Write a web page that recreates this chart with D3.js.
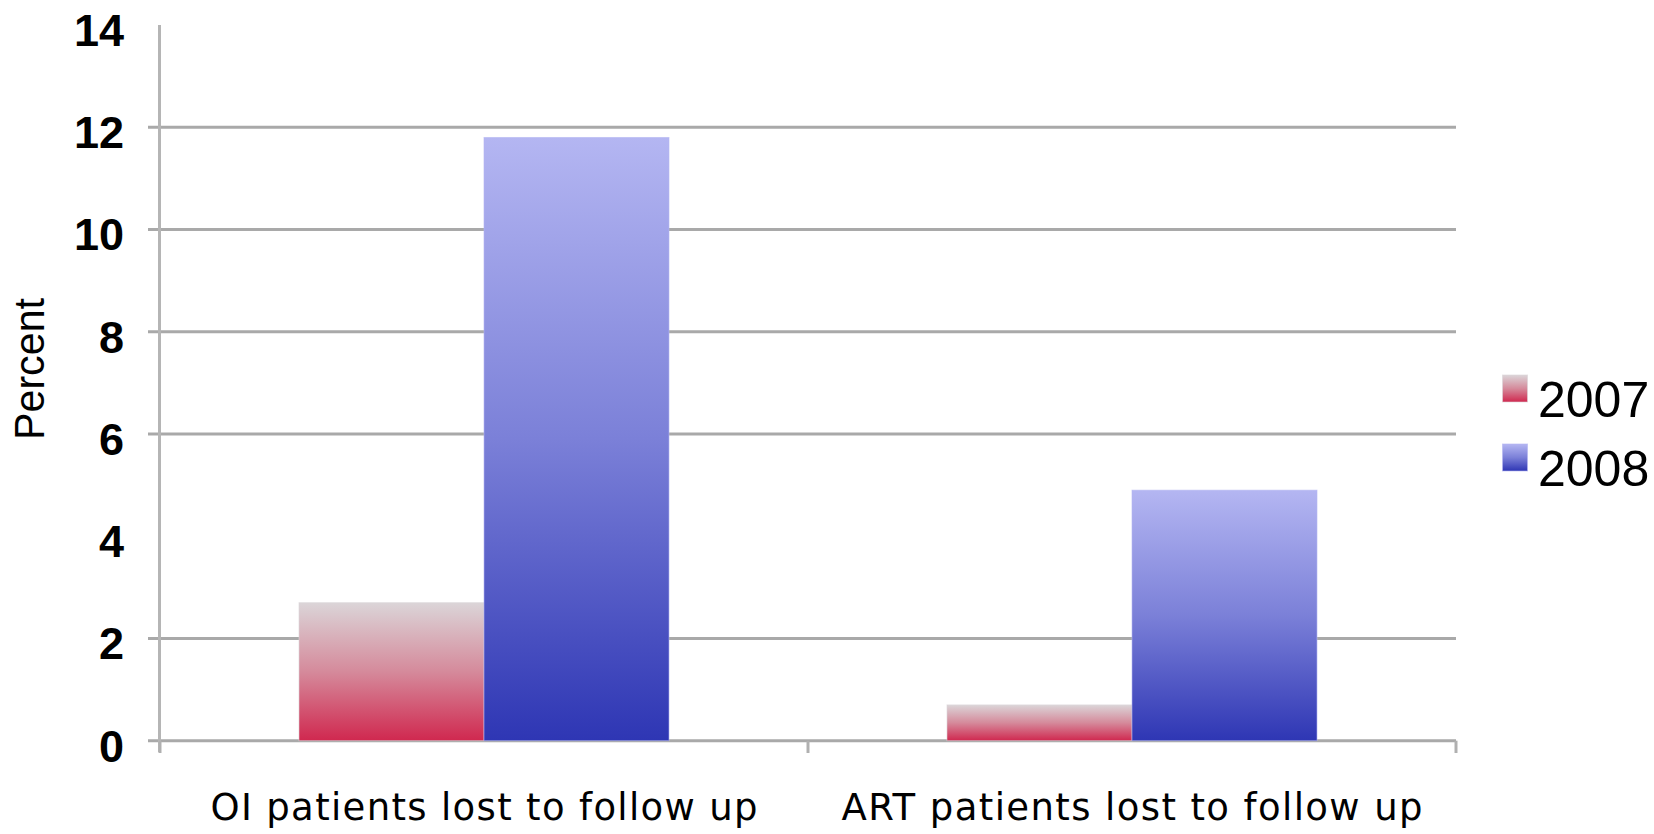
<!DOCTYPE html>
<html>
<head>
<meta charset="utf-8">
<script src="https://cdn.jsdelivr.net/npm/d3@7"></script>
<style>
  html, body { margin: 0; padding: 0; background: #ffffff; }
  svg { display: block; }
</style>
</head>
<body>
<script>
// ---- data ----
const categories = ["OI patients lost to follow up", "ART patients lost to follow up"];
const seriesNames = ["2007", "2008"];
const values2007 = [2.7, 0.7];
const values2008 = [11.8, 4.9];
const yTicks = [0, 2, 4, 6, 8, 10, 12, 14];
const gridValues = [0, 2, 6, 8, 10, 12];
const yTitle = "Percent";

const W = 1654, H = 834;
const svg = d3.select("body").append("svg").attr("width", W).attr("height", H);

const seriesValues = [values2007, values2008];
const gradients = [
  [["0%", "#dbd5d8"], ["50%", "#d58a9b"], ["100%", "#d0284f"]],
  [["0%", "#b4b6f2"], ["50%", "#7b80d8"], ["100%", "#2e36b4"]]
];

const defs = svg.append("defs");
gradients.forEach((stops, i) => {
  const g = defs.append("linearGradient").attr("id", "grad" + i)
    .attr("x1", 0).attr("y1", 0).attr("x2", 0).attr("y2", 1);
  stops.forEach(s => g.append("stop").attr("offset", s[0]).attr("stop-color", s[1]));
});

// ---- scales ----
const y = d3.scaleLinear().domain([0, 14]).range([740.7, 25]);
const x0 = d3.scaleBand().domain(categories).range([160, 1456])
  .paddingInner(0.429).paddingOuter(0.2145);
const x1 = d3.scaleBand().domain(seriesNames).range([0, x0.bandwidth()]).padding(0);

// ---- gridlines ----
svg.append("g").selectAll("line").data(gridValues).join("line")
  .attr("x1", 148).attr("x2", 1456)
  .attr("y1", d => y(d)).attr("y2", d => y(d))
  .attr("stroke", "#a9a9a9").attr("stroke-width", 3);

// ---- y axis line ----
svg.append("line")
  .attr("x1", 159.5).attr("x2", 159.5).attr("y1", y(14)).attr("y2", 752)
  .attr("stroke", "#b5b5b5").attr("stroke-width", 3);

// bottom category ticks
const catEdges = [x0.range()[0], (x0.range()[0] + x0.range()[1]) / 2, x0.range()[1]];
svg.append("g").selectAll("line").data(catEdges).join("line")
  .attr("x1", d => d).attr("x2", d => d).attr("y1", y(0)).attr("y2", 753)
  .attr("stroke", "#b0b0b0").attr("stroke-width", 3);

// ---- y tick labels ----
svg.append("g").selectAll("text").data(yTicks).join("text")
  .attr("x", 124).attr("y", d => y(d) + 21)
  .attr("text-anchor", "end")
  .attr("font-family", "'Liberation Sans', Arial, sans-serif")
  .attr("font-weight", "bold").attr("font-size", 45)
  .attr("fill", "#000")
  .text(d => d);

// ---- y title ----
svg.append("text")
  .attr("transform", "translate(44,369) rotate(-90)")
  .attr("text-anchor", "middle")
  .attr("font-family", "'Liberation Sans', Arial, sans-serif")
  .attr("font-size", 42)
  .attr("textLength", 142).attr("lengthAdjust", "spacingAndGlyphs")
  .attr("fill", "#000")
  .text(yTitle);

// ---- bars ----
const groups = svg.append("g").selectAll("g").data(categories).join("g")
  .attr("transform", d => `translate(${x0(d)},0)`);
groups.selectAll("rect")
  .data((c, ci) => seriesNames.map((s, si) => ({ s, si, v: seriesValues[si][ci] })))
  .join("rect")
  .attr("x", d => x1(d.s))
  .attr("width", x1.bandwidth())
  .attr("y", d => y(d.v))
  .attr("height", d => y(0) - y(d.v))
  .attr("fill", d => `url(#grad${d.si})`)
  .attr("stroke", d => gradients[d.si][0][1])
  .attr("stroke-opacity", 0.6)
  .attr("stroke-width", 1);

// ---- category labels ----
const catWidths = [547, 581];
svg.append("g").selectAll("text").data(categories).join("text")
  .attr("x", d => x0(d) + x0.bandwidth() / 2)
  .attr("y", 820)
  .attr("text-anchor", "middle")
  .attr("font-family", "'DejaVu Sans', Verdana, sans-serif")
  .attr("font-size", 37)
  .attr("textLength", (d, i) => catWidths[i])
  .attr("lengthAdjust", "spacing")
  .attr("fill", "#000")
  .text(d => d);

// ---- legend ----
const legendY = [375, 444];
const leg = svg.append("g").selectAll("g").data(seriesNames).join("g");
leg.append("rect")
  .attr("x", 1502.5).attr("y", (d, i) => legendY[i])
  .attr("width", 25).attr("height", 27)
  .attr("fill", (d, i) => `url(#grad${i})`)
  .attr("stroke", (d, i) => gradients[i][0][1]).attr("stroke-opacity", 0.6);
leg.append("text")
  .attr("x", 1538).attr("y", (d, i) => legendY[i] + 41.5)
  .attr("font-family", "'Liberation Sans', Arial, sans-serif")
  .attr("font-size", 50)
  .attr("fill", "#000")
  .text(d => d);
</script>
</body>
</html>
